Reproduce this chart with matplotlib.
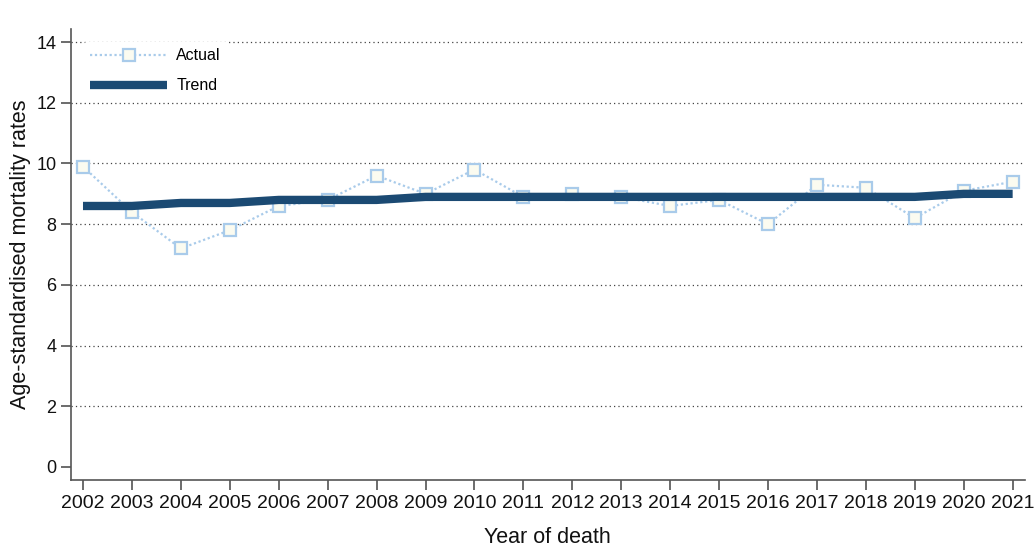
import matplotlib
matplotlib.use("Agg")
import matplotlib.pyplot as plt
from matplotlib.ticker import FixedLocator

plt.rcParams['font.family'] = ['Liberation Sans', 'DejaVu Sans']

years = list(range(2002, 2022))
actual = [9.9, 8.4, 7.2, 7.8, 8.6, 8.8, 9.6, 9.0, 9.8, 8.9,
          9.0, 8.9, 8.6, 8.8, 8.0, 9.3, 9.2, 8.2, 9.1, 9.4]
trend = [8.6, 8.6, 8.7, 8.7, 8.8, 8.8, 8.8, 8.9, 8.9, 8.9,
         8.9, 8.9, 8.9, 8.9, 8.9, 8.9, 8.9, 8.9, 9.0, 9.0]
y_ticks = [0, 2, 4, 6, 8, 10, 12, 14]

fig = plt.figure(figsize=(10.35, 5.48), dpi=100)
ax = fig.add_axes([0.0686, 0.124, 0.9214, 0.823])

for v in y_ticks[1:]:
    ax.axhline(v, color='#444444', lw=0.9, ls=(0, (1, 2.5)), zorder=0)

ax.plot(years, actual, color='#a9cbea', lw=1.6, ls=(0, (1, 1.2)),
        marker='s', markersize=8, markerfacecolor='#fbfbf0',
        markeredgecolor='#a9cbea', markeredgewidth=1.6, label='Actual', zorder=2)
ax.plot(years, trend, color='#1b4a73', lw=6, solid_capstyle='butt',
        label='Trend', zorder=3)

ax.set_xlim(2002 - 0.245, 2021 + 0.245)
ax.set_ylim(-0.43, 14.43)
ax.xaxis.set_major_locator(FixedLocator(years))
ax.yaxis.set_major_locator(FixedLocator(y_ticks))
ax.set_xticklabels([str(y) for y in years])

for s in ['top', 'right']:
    ax.spines[s].set_visible(False)
for s in ['left', 'bottom']:
    ax.spines[s].set_color('#555555')
    ax.spines[s].set_linewidth(1.2)
ax.tick_params(axis='both', direction='out', length=7, width=1.1,
               color='#444444', labelsize=14, labelcolor='#111111')
ax.tick_params(axis='y', labelsize=13)

ax.set_ylabel('Age-standardised mortality rates', fontsize=15.5, color='#111111', labelpad=4)
ax.set_xlabel('Year of death', fontsize=15.5, color='#111111', labelpad=11)

leg = ax.legend(loc='upper left', bbox_to_anchor=(0.0, 1.0), frameon=True,
                fontsize=11.5, handlelength=4.8, borderaxespad=0.8,
                labelspacing=0.95, handletextpad=0.6)
leg.get_frame().set_facecolor('white')
leg.get_frame().set_edgecolor('white')
leg.get_frame().set_alpha(1)

fig.savefig('out.png', dpi=100, facecolor='white')
